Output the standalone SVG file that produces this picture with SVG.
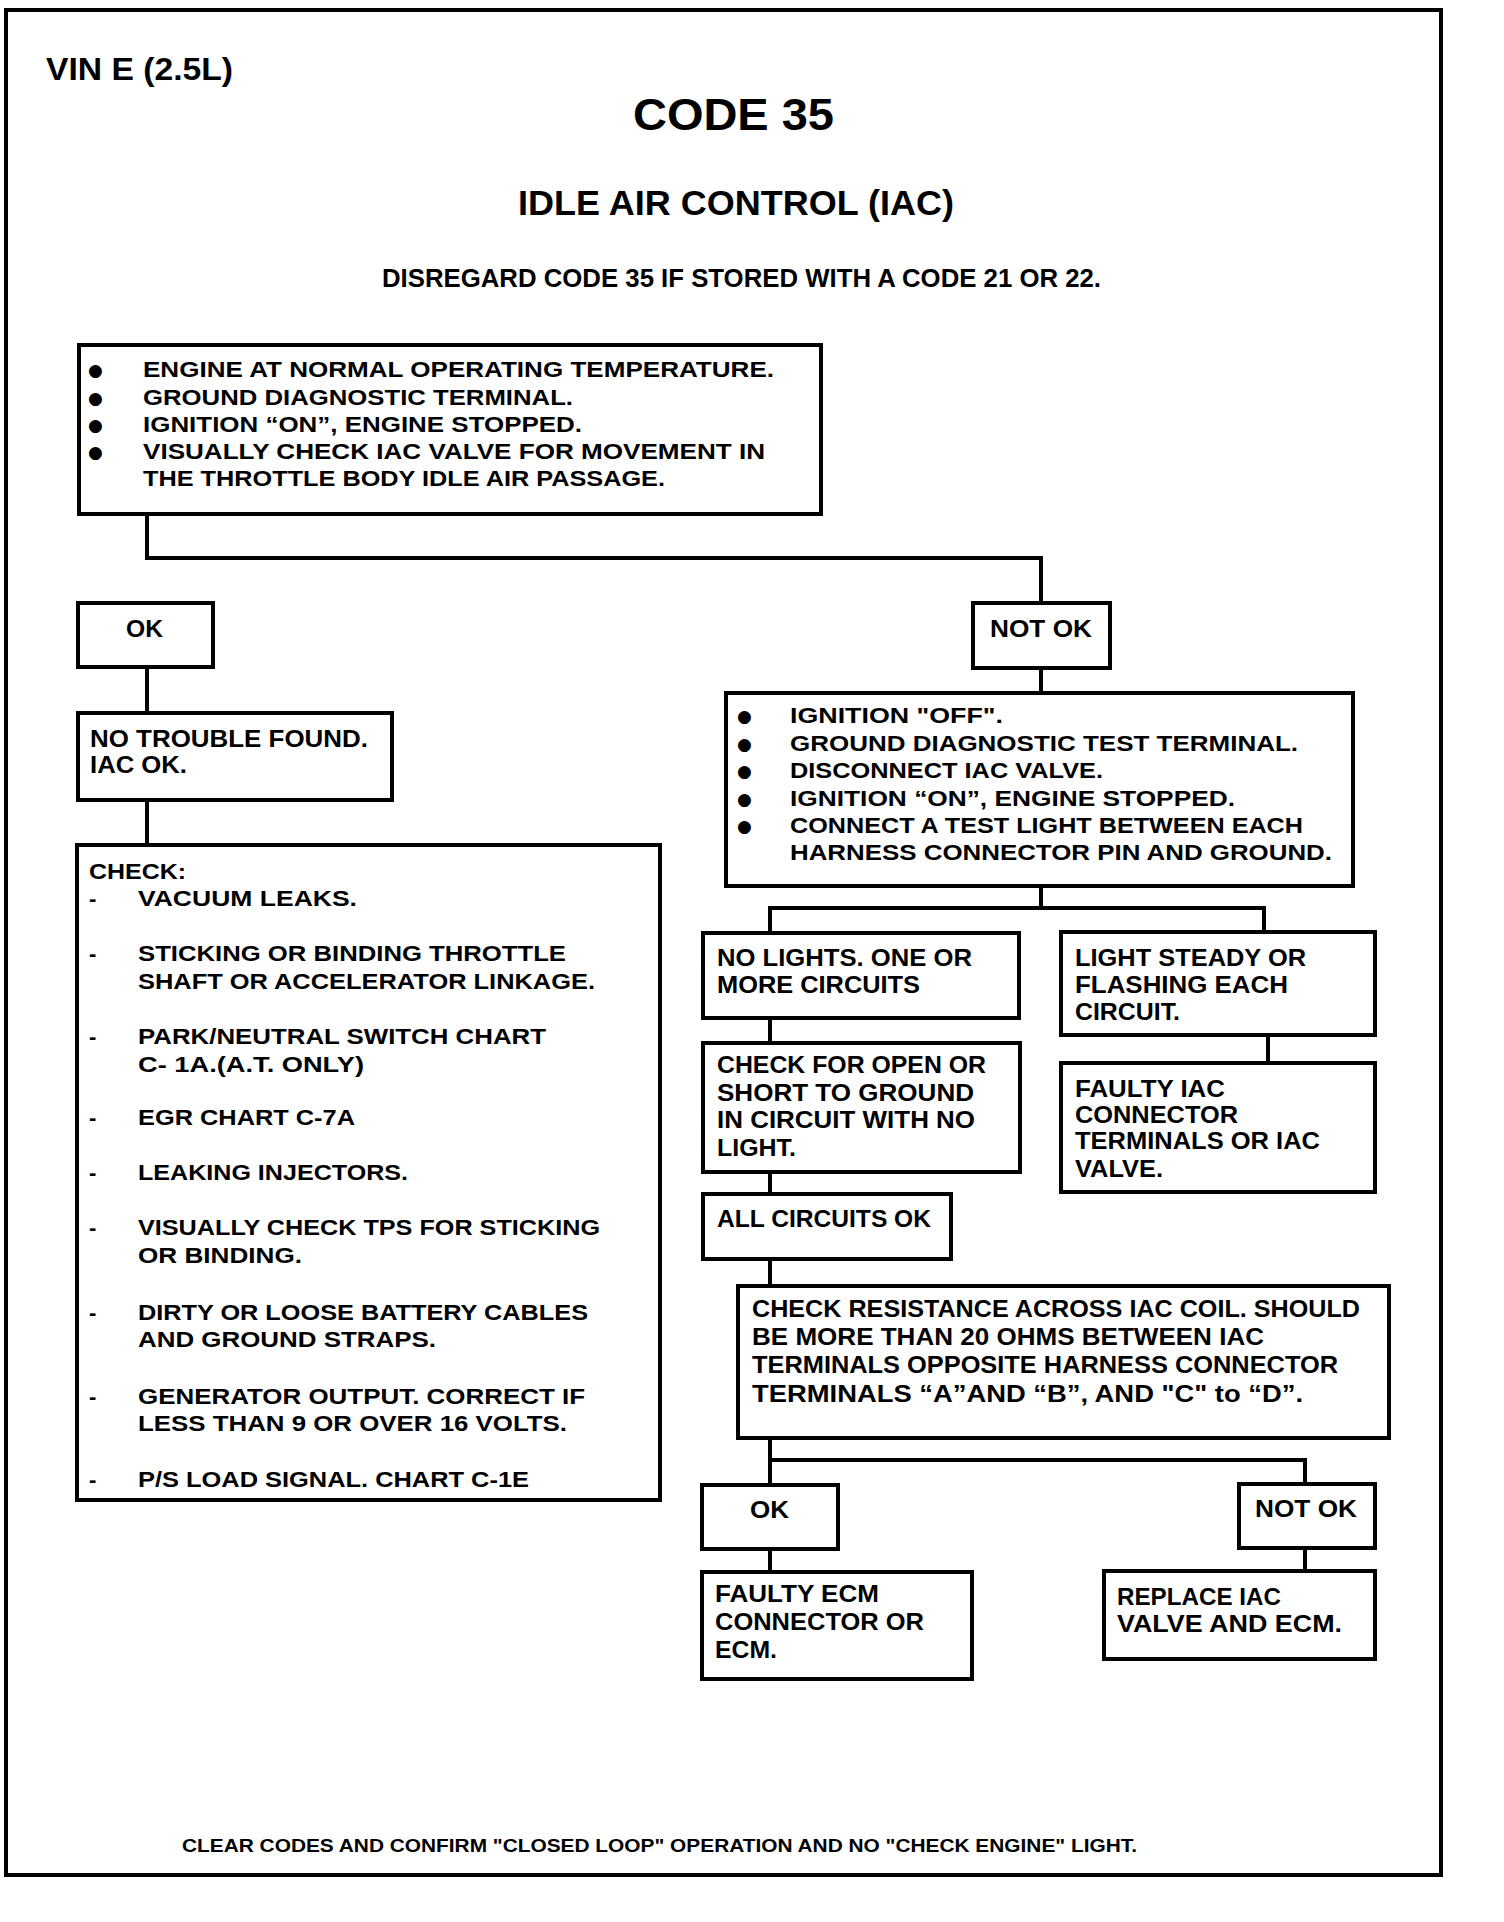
<svg xmlns="http://www.w3.org/2000/svg" width="1504" height="1922" viewBox="0 0 1504 1922">
<style>
.bx{fill:#fff;stroke:#000;stroke-width:4}
.cn{fill:none;stroke:#000;stroke-width:4}
text{font-family:"Liberation Sans",Arial,sans-serif;font-weight:700;fill:#000}
.t{font-size:22px}
.c{font-size:23px}
.b{font-family:"DejaVu Sans",sans-serif;font-size:17px}
</style>
<rect x="0" y="0" width="1504" height="1922" fill="#fff"/>
<rect x="6" y="10" width="1435" height="1865" fill="none" stroke="#000" stroke-width="4"/>
<g id="header">
<text x="46" y="80" style="font-size:32px" textLength="187" lengthAdjust="spacingAndGlyphs">VIN E (2.5L)</text>
<text x="633" y="130" style="font-size:45px" textLength="201" lengthAdjust="spacingAndGlyphs">CODE 35</text>
<text x="518" y="215" style="font-size:35px" textLength="436" lengthAdjust="spacingAndGlyphs">IDLE AIR CONTROL (IAC)</text>
<text x="382" y="287" style="font-size:25px" textLength="719" lengthAdjust="spacingAndGlyphs">DISREGARD CODE 35 IF STORED WITH A CODE 21 OR 22.</text>
</g>
<g id="connectors">
<path class="cn" d="M147 514 V558 H1041 V603"/>
<path class="cn" d="M147 667 V713"/>
<path class="cn" d="M147 800 V845"/>
<path class="cn" d="M1041 668 V693"/>
<path class="cn" d="M1041 886 V908"/>
<path class="cn" d="M770 933 V908 H1264 V932"/>
<path class="cn" d="M770 1018 V1043"/>
<path class="cn" d="M770 1172 V1194"/>
<path class="cn" d="M770 1259 V1286"/>
<path class="cn" d="M1268 1035 V1063"/>
<path class="cn" d="M770 1438 V1485"/>
<path class="cn" d="M770 1460 H1305 V1484"/>
<path class="cn" d="M770 1549 V1572"/>
<path class="cn" d="M1305 1548 V1571"/>
</g>
<g id="start">
<rect class="bx" x="79" y="345" width="742" height="169"/>
<text class="b" x="88" y="376">●</text>
<text class="b" x="88" y="404">●</text>
<text class="b" x="88" y="431">●</text>
<text class="b" x="88" y="458">●</text>
<text class="t" x="143" y="377" textLength="631" lengthAdjust="spacingAndGlyphs">ENGINE AT NORMAL OPERATING TEMPERATURE.</text>
<text class="t" x="143" y="405" textLength="430" lengthAdjust="spacingAndGlyphs">GROUND DIAGNOSTIC TERMINAL.</text>
<text class="t" x="143" y="432" textLength="439" lengthAdjust="spacingAndGlyphs">IGNITION “ON”, ENGINE STOPPED.</text>
<text class="t" x="143" y="459" textLength="622" lengthAdjust="spacingAndGlyphs">VISUALLY CHECK IAC VALVE FOR MOVEMENT IN</text>
<text class="t" x="143" y="486" textLength="522" lengthAdjust="spacingAndGlyphs">THE THROTTLE BODY IDLE AIR PASSAGE.</text>
</g>
<g id="ok1">
<rect class="bx" x="78" y="603" width="135" height="64"/>
<text class="c" x="126" y="637" textLength="37" lengthAdjust="spacingAndGlyphs">OK</text>
</g>
<g id="notok1">
<rect class="bx" x="973" y="603" width="137" height="65"/>
<text class="c" x="990" y="637" textLength="102" lengthAdjust="spacingAndGlyphs">NOT OK</text>
</g>
<g id="notrouble">
<rect class="bx" x="78" y="713" width="314" height="87"/>
<text class="c" x="90" y="747" textLength="278" lengthAdjust="spacingAndGlyphs">NO TROUBLE FOUND.</text>
<text class="c" x="90" y="773" textLength="97" lengthAdjust="spacingAndGlyphs">IAC OK.</text>
</g>
<g id="check">
<rect class="bx" x="77" y="845" width="583" height="655"/>
<text class="t" x="89" y="879" textLength="97" lengthAdjust="spacingAndGlyphs">CHECK:</text>
<text class="t" x="89" y="906">-</text>
<text class="t" x="138" y="906" textLength="219" lengthAdjust="spacingAndGlyphs">VACUUM LEAKS.</text>
<text class="t" x="89" y="961">-</text>
<text class="t" x="138" y="961" textLength="428" lengthAdjust="spacingAndGlyphs">STICKING OR BINDING THROTTLE</text>
<text class="t" x="138" y="989" textLength="457" lengthAdjust="spacingAndGlyphs">SHAFT OR ACCELERATOR LINKAGE.</text>
<text class="t" x="89" y="1044">-</text>
<text class="t" x="138" y="1044" textLength="408" lengthAdjust="spacingAndGlyphs">PARK/NEUTRAL SWITCH CHART</text>
<text class="t" x="138" y="1072" textLength="226" lengthAdjust="spacingAndGlyphs">C- 1A.(A.T. ONLY)</text>
<text class="t" x="89" y="1125">-</text>
<text class="t" x="138" y="1125" textLength="217" lengthAdjust="spacingAndGlyphs">EGR CHART C-7A</text>
<text class="t" x="89" y="1180">-</text>
<text class="t" x="138" y="1180" textLength="270" lengthAdjust="spacingAndGlyphs">LEAKING INJECTORS.</text>
<text class="t" x="89" y="1235">-</text>
<text class="t" x="138" y="1235" textLength="462" lengthAdjust="spacingAndGlyphs">VISUALLY CHECK TPS FOR STICKING</text>
<text class="t" x="138" y="1263" textLength="164" lengthAdjust="spacingAndGlyphs">OR BINDING.</text>
<text class="t" x="89" y="1320">-</text>
<text class="t" x="138" y="1320" textLength="450" lengthAdjust="spacingAndGlyphs">DIRTY OR LOOSE BATTERY CABLES</text>
<text class="t" x="138" y="1347" textLength="298" lengthAdjust="spacingAndGlyphs">AND GROUND STRAPS.</text>
<text class="t" x="89" y="1404">-</text>
<text class="t" x="138" y="1404" textLength="447" lengthAdjust="spacingAndGlyphs">GENERATOR OUTPUT.  CORRECT IF</text>
<text class="t" x="138" y="1431" textLength="429" lengthAdjust="spacingAndGlyphs">LESS THAN 9 OR OVER 16 VOLTS.</text>
<text class="t" x="89" y="1487">-</text>
<text class="t" x="138" y="1487" textLength="391" lengthAdjust="spacingAndGlyphs">P/S LOAD SIGNAL. CHART C-1E</text>
</g>
<g id="ignoff">
<rect class="bx" x="726" y="693" width="627" height="193"/>
<text class="b" x="737" y="722">●</text>
<text class="b" x="737" y="750">●</text>
<text class="b" x="737" y="777">●</text>
<text class="b" x="737" y="805">●</text>
<text class="b" x="737" y="832">●</text>
<text class="t" x="790" y="723" textLength="213" lengthAdjust="spacingAndGlyphs">IGNITION "OFF".</text>
<text class="t" x="790" y="751" textLength="508" lengthAdjust="spacingAndGlyphs">GROUND DIAGNOSTIC TEST TERMINAL.</text>
<text class="t" x="790" y="778" textLength="313" lengthAdjust="spacingAndGlyphs">DISCONNECT IAC VALVE.</text>
<text class="t" x="790" y="806" textLength="445" lengthAdjust="spacingAndGlyphs">IGNITION “ON”, ENGINE STOPPED.</text>
<text class="t" x="790" y="833" textLength="513" lengthAdjust="spacingAndGlyphs">CONNECT A TEST LIGHT BETWEEN EACH</text>
<text class="t" x="790" y="860" textLength="542" lengthAdjust="spacingAndGlyphs">HARNESS CONNECTOR PIN AND GROUND.</text>
</g>
<g id="nolights">
<rect class="bx" x="703" y="933" width="316" height="85"/>
<text class="c" x="717" y="966" textLength="255" lengthAdjust="spacingAndGlyphs">NO LIGHTS. ONE OR</text>
<text class="c" x="717" y="993" textLength="203" lengthAdjust="spacingAndGlyphs">MORE CIRCUITS</text>
</g>
<g id="steady">
<rect class="bx" x="1061" y="932" width="314" height="103"/>
<text class="c" x="1075" y="966" textLength="231" lengthAdjust="spacingAndGlyphs">LIGHT STEADY OR</text>
<text class="c" x="1075" y="993" textLength="213" lengthAdjust="spacingAndGlyphs">FLASHING  EACH</text>
<text class="c" x="1075" y="1020" textLength="105" lengthAdjust="spacingAndGlyphs">CIRCUIT.</text>
</g>
<g id="checkopen">
<rect class="bx" x="703" y="1043" width="317" height="129"/>
<text class="c" x="717" y="1073" textLength="269" lengthAdjust="spacingAndGlyphs">CHECK FOR OPEN OR</text>
<text class="c" x="717" y="1101" textLength="257" lengthAdjust="spacingAndGlyphs">SHORT TO GROUND</text>
<text class="c" x="717" y="1128" textLength="258" lengthAdjust="spacingAndGlyphs">IN CIRCUIT WITH NO</text>
<text class="c" x="717" y="1156" textLength="79" lengthAdjust="spacingAndGlyphs">LIGHT.</text>
</g>
<g id="faultyiac">
<rect class="bx" x="1061" y="1063" width="314" height="129"/>
<text class="c" x="1075" y="1097" textLength="150" lengthAdjust="spacingAndGlyphs">FAULTY IAC</text>
<text class="c" x="1075" y="1123" textLength="163" lengthAdjust="spacingAndGlyphs">CONNECTOR</text>
<text class="c" x="1075" y="1149" textLength="245" lengthAdjust="spacingAndGlyphs">TERMINALS OR IAC</text>
<text class="c" x="1075" y="1177" textLength="88" lengthAdjust="spacingAndGlyphs">VALVE.</text>
</g>
<g id="allok">
<rect class="bx" x="703" y="1194" width="248" height="65"/>
<text class="c" x="717" y="1227" textLength="214" lengthAdjust="spacingAndGlyphs">ALL CIRCUITS OK</text>
</g>
<g id="resistance">
<rect class="bx" x="738" y="1286" width="651" height="152"/>
<text class="c" x="752" y="1317" textLength="608" lengthAdjust="spacingAndGlyphs">CHECK RESISTANCE ACROSS IAC COIL. SHOULD</text>
<text class="c" x="752" y="1345" textLength="512" lengthAdjust="spacingAndGlyphs">BE MORE THAN 20 OHMS BETWEEN IAC</text>
<text class="c" x="752" y="1373" textLength="586" lengthAdjust="spacingAndGlyphs">TERMINALS OPPOSITE HARNESS CONNECTOR</text>
<text class="c" x="752" y="1402" textLength="551" lengthAdjust="spacingAndGlyphs">TERMINALS “A”AND “B”, AND "C" to “D”.</text>
</g>
<g id="ok2">
<rect class="bx" x="702" y="1485" width="136" height="64"/>
<text class="c" x="750" y="1518" textLength="39" lengthAdjust="spacingAndGlyphs">OK</text>
</g>
<g id="notok2">
<rect class="bx" x="1239" y="1484" width="136" height="64"/>
<text class="c" x="1255" y="1517" textLength="102" lengthAdjust="spacingAndGlyphs">NOT OK</text>
</g>
<g id="faultyecm">
<rect class="bx" x="702" y="1572" width="270" height="107"/>
<text class="c" x="715" y="1602" textLength="164" lengthAdjust="spacingAndGlyphs">FAULTY ECM</text>
<text class="c" x="715" y="1630" textLength="209" lengthAdjust="spacingAndGlyphs">CONNECTOR OR</text>
<text class="c" x="715" y="1658" textLength="62" lengthAdjust="spacingAndGlyphs">ECM.</text>
</g>
<g id="replace">
<rect class="bx" x="1104" y="1571" width="271" height="88"/>
<text class="c" x="1117" y="1605" textLength="164" lengthAdjust="spacingAndGlyphs">REPLACE IAC</text>
<text class="c" x="1117" y="1632" textLength="225" lengthAdjust="spacingAndGlyphs">VALVE AND ECM.</text>
</g>
<g id="footer">
<text x="182" y="1852" style="font-size:19px" textLength="955" lengthAdjust="spacingAndGlyphs">CLEAR CODES AND CONFIRM "CLOSED LOOP" OPERATION AND NO "CHECK ENGINE" LIGHT.</text>
</g>
</svg>
